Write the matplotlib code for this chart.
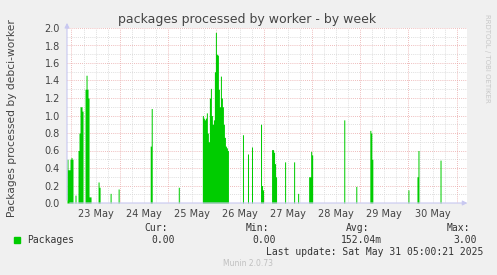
import numpy as np
import matplotlib
matplotlib.use('Agg')
import matplotlib.pyplot as plt

# samples of 30 min, hours counted from 23 May 00:00 (only the non-zero ones)
spike_hours = [-2.0, -1.5, -1.0, -0.5, 0.0, 0.5, 2.0,
               3.5, 4.0, 4.5, 5.0, 5.5, 7.0, 7.5, 8.0, 8.5, 9.0, 9.5,
               13.5, 14.0, 19.5, 23.5, 39.5, 40.0, 53.5,
               65.5, 66.0, 66.5, 67.0, 67.5, 68.0, 68.5, 69.0, 69.5, 70.0,
               70.5, 71.0, 71.5, 72.0, 72.5, 73.0, 73.5, 74.0, 74.5, 75.0,
               75.5, 76.0, 76.5, 77.0, 77.5, 78.0,
               85.5, 88.0, 90.0, 94.5, 95.0, 95.5,
               100.0, 100.5, 101.0, 101.5, 102.0, 106.5, 111.0, 113.0,
               118.5, 119.0, 119.5, 120.0, 136.0, 142.0,
               149.0, 149.5, 150.0, 168.0, 172.5, 173.0, 184.0]
spike_values = [0.5, 0.38, 0.38, 0.5, 0.52, 0.5, 0.09,
                0.6, 0.8, 1.1, 1.1, 1.05, 1.3, 1.46, 1.3, 1.2, 0.07, 0.07,
                0.24, 0.18, 0.11, 0.16, 0.65, 1.08, 0.18,
                1.0, 0.97, 0.95, 0.97, 1.03, 0.8, 0.7, 1.2, 1.31, 1.0,
                0.9, 0.95, 1.5, 1.95, 1.7, 1.69, 1.3, 1.1, 1.45, 1.2,
                1.1, 0.9, 0.75, 0.65, 0.63, 0.6,
                0.78, 0.56, 0.64, 0.9, 0.2, 0.15,
                0.61, 0.61, 0.58, 0.45, 0.3, 0.47, 0.47, 0.11,
                0.3, 0.3, 0.59, 0.55, 0.95, 0.19,
                0.83, 0.8, 0.5, 0.15, 0.3, 0.6, 0.49]

day_labels = ['23 May', '24 May', '25 May', '26 May', '27 May', '28 May', '29 May', '30 May']
y_labels = ['0.0', '0.2', '0.4', '0.6', '0.8', '1.0', '1.2', '1.4', '1.6', '1.8', '2.0']

legend_name = 'Packages'
stat_names = ['Cur:', 'Min:', 'Avg:', 'Max:']
stat_values = ['0.00', '0.00', '152.04m', '3.00']
last_update = 'Last update: Sat May 31 05:00:21 2025'

# full time axis with zeros where nothing was processed
t = np.arange(-2.5, 197.5, 0.5)
v = np.zeros_like(t)
for h, val in zip(spike_hours, spike_values):
    v[np.argmin(np.abs(t - h))] = val

W, H = 497, 275
fig = plt.figure(figsize=(W / 100, H / 100), dpi=100, facecolor='#f0f0f0')
ax = fig.add_axes([67 / W, 1 - 203 / H, 400 / W, 175 / H])
ax.set_facecolor('white')

x0, x1 = -2.24, 197.2
ax.set_xlim(x0, x1)
ax.set_ylim(0, 2.0)

# grid: gray minor, red major
dot = (0, (1, 1.5))
for y in np.arange(0.1, 2.01, 0.1):
    major = round(y * 10) % 2 == 0
    ax.axhline(y, color='#e9a6a6' if major else '#d4d4d4', lw=0.6, ls=dot, zorder=1)
for x in np.arange(0, 198, 6):
    major = x % 24 == 0
    ax.axvline(x, color='#e9a6a6' if major else '#d4d4d4', lw=0.6, ls=dot, zorder=1)

ax.fill_between(t, v, step='mid', color='#00cc00', lw=0, zorder=2)

for s in ax.spines.values():
    s.set_visible(False)
ax.annotate('', xy=(1.008, 0), xytext=(0, 0), xycoords='axes fraction',
            arrowprops=dict(arrowstyle='-|>', color='#c8c8f0', lw=0.8, mutation_scale=7))
ax.annotate('', xy=(0, 1.045), xytext=(0, 0), xycoords='axes fraction',
            arrowprops=dict(arrowstyle='-|>', color='#c8c8f0', lw=0.8, mutation_scale=7))

ax.set_xticks([12 + 24 * i for i in range(len(day_labels))], day_labels)
ax.set_yticks([0.2 * i for i in range(len(y_labels))], y_labels)
ax.tick_params(axis='both', length=0, labelsize=7, labelcolor='#444444')
ax.tick_params(axis='x', pad=4)
ax.tick_params(axis='y', pad=5)

fig.text(247 / W, 1 - 19 / H, 'packages processed by worker - by week',
         ha='center', va='center', fontsize=9, color='#444444')
fig.text(12 / W, 1 - 118 / H, 'Packages processed by debci-worker', rotation=90,
         ha='center', va='center', fontsize=7.7, color='#444444')
fig.text(487 / W, 1 - 58 / H, 'RRDTOOL / TOBI OETIKER', rotation=270,
         ha='center', va='center', fontsize=5, color='#c8c8c8')

mono = 'DejaVu Sans Mono'
fig.patches.append(plt.Rectangle((14 / W, 1 - 243 / H), 6 / W, 6 / H,
                                 transform=fig.transFigure, color='#00cc00'))
fig.text(27 / W, 1 - 240 / H, legend_name, family=mono, fontsize=7,
         ha='left', va='center', color='#333333')
name_right = [168, 269, 369, 470]
value_right = [175, 276, 382, 477]
for name, val, xn, xv in zip(stat_names, stat_values, name_right, value_right):
    fig.text(xn / W, 1 - 228 / H, name, family=mono, fontsize=7,
             ha='right', va='center', color='#333333')
    fig.text(xv / W, 1 - 240 / H, val, family=mono, fontsize=7,
             ha='right', va='center', color='#333333')
fig.text(483 / W, 1 - 252 / H, last_update, family=mono, fontsize=7,
         ha='right', va='center', color='#333333')
fig.text(248 / W, 1 - 264 / H, 'Munin 2.0.73', fontsize=5.5,
         ha='center', va='center', color='#c0c0c0')

fig.savefig('out.png', dpi=100, facecolor=fig.get_facecolor())
